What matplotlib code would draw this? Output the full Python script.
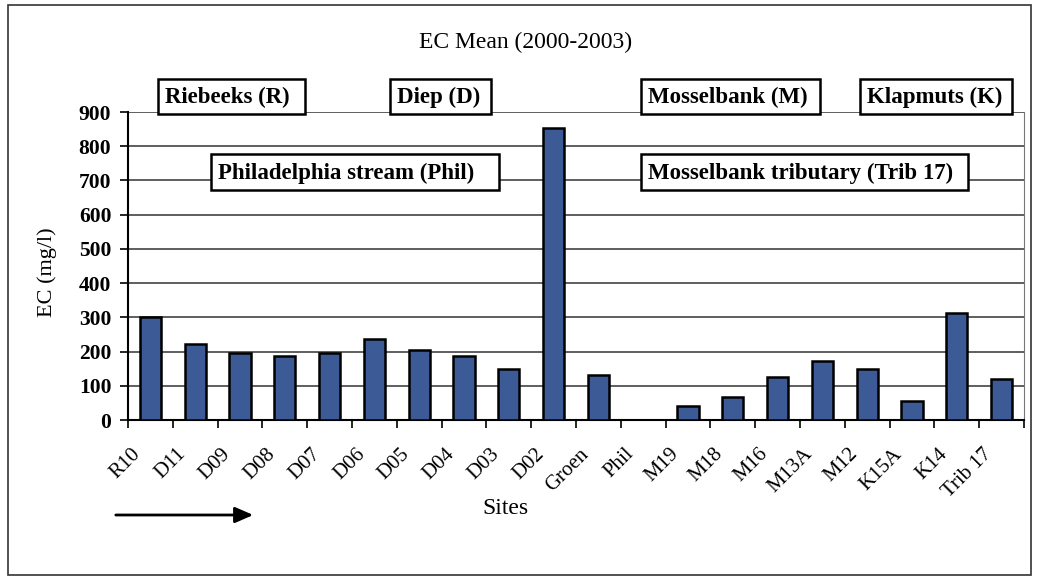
import numpy as np
import matplotlib
matplotlib.use("Agg")
import matplotlib.pyplot as plt
from matplotlib.patches import Rectangle, FancyArrowPatch
import matplotlib.transforms as mtransforms

sites = ["R10", "D11", "D09", "D08", "D07", "D06", "D05", "D04", "D03", "D02",
         "Groen", "Phil", "M19", "M18", "M16", "M13A", "M12", "K15A", "K14", "Trib 17"]
ec_mean = [302, 222, 195, 188, 195, 238, 205, 188, 149, 854,
           131, 0, 40, 68, 126, 171, 148, 56, 313, 121]
y_ticks = [0, 100, 200, 300, 400, 500, 600, 700, 800, 900]
title = "EC Mean (2000-2003)"
box_labels = ["Riebeeks (R)", "Diep (D)", "Philadelphia stream (Phil)",
              "Mosselbank (M)", "Klapmuts (K)", "Mosselbank tributary (Trib 17)"]
# box extents in pixels: (left, top, right, bottom)
box_extents = [(158, 79, 305, 114), (390, 79, 491, 114), (211, 154, 499, 190),
               (641, 79, 820, 114), (860, 79, 1012, 114), (641, 154, 968, 190)]

W, H = 1039, 577
plt.rcParams['font.family'] = ['Liberation Serif', 'DejaVu Serif']
fig = plt.figure(figsize=(W / 100, H / 100), dpi=100)
fig.patch.set_facecolor('white')

def fx(px):
    return px / W

def fy(py):
    return 1 - py / H

# outer frame
fig.add_artist(Rectangle((fx(8), fy(575)), fx(1031) - fx(8), fy(5) - fy(575),
                         transform=fig.transFigure, fill=False, edgecolor='#333333', lw=1.2))

ax = fig.add_axes([fx(128), fy(420), fx(1024) - fx(128), fy(112) - fy(420)])
x = np.arange(len(sites))
ax.bar(x, ec_mean, width=0.47, color='#3b5a96', edgecolor='black', linewidth=1.8, zorder=3)
ax.set_xlim(-0.5, len(sites) - 0.5)
ax.set_ylim(0, 900)
ax.set_yticks(y_ticks)
ax.set_yticklabels([str(v) for v in y_ticks], fontsize=15.5, fontweight='bold')
ax.yaxis.grid(True, color='#333333', linewidth=1.1, zorder=0)
ax.set_axisbelow(True)
ax.spines['top'].set_visible(False)
ax.spines['right'].set_color('#777777')
ax.spines['left'].set_linewidth(1.5)
ax.spines['bottom'].set_linewidth(1.5)
ax.tick_params(axis='y', length=6, width=1.2, pad=6)

ax.set_xticks(x)
ax.set_xticklabels(sites, rotation=45, ha='right', va='top', rotation_mode='anchor',
                   fontsize=15)
ax.tick_params(axis='x', which='major', length=0, pad=12)
ax.set_xticks(np.arange(-0.5, len(sites), 1), minor=True)
ax.tick_params(axis='x', which='minor', length=6, width=1.2, direction='out')
offset = mtransforms.ScaledTranslation(-19 / 100, -8 / 100, fig.dpi_scale_trans)
for lab in ax.get_xticklabels():
    lab.set_transform(lab.get_transform() + offset)

fig.text(fx(526), fy(42), title, ha='center', va='center', fontsize=17)
fig.text(fx(47), fy(272), "EC (mg/l)", rotation=90, ha='center', va='center', fontsize=16)
fig.text(fx(505), fy(508), "Sites", ha='center', va='center', fontsize=17)

for label, (l, t, r, b) in zip(box_labels, box_extents):
    fig.add_artist(Rectangle((fx(l), fy(b)), fx(r) - fx(l), fy(t) - fy(b),
                             transform=fig.transFigure, facecolor='white',
                             edgecolor='black', lw=1.8, zorder=5))
    fig.text(fx(l + 7), fy((t + b) / 2 + 1), label, ha='left', va='center', fontsize=16.5,
             fontweight='bold', zorder=6)

fig.add_artist(FancyArrowPatch((fx(113), fy(515)), (fx(256), fy(515)),
                               transform=fig.transFigure,
                               arrowstyle='-|>,head_length=5.5,head_width=2.4',
                               mutation_scale=2, color='black', lw=2.0))

fig.savefig("out.png", dpi=100, facecolor='white')
